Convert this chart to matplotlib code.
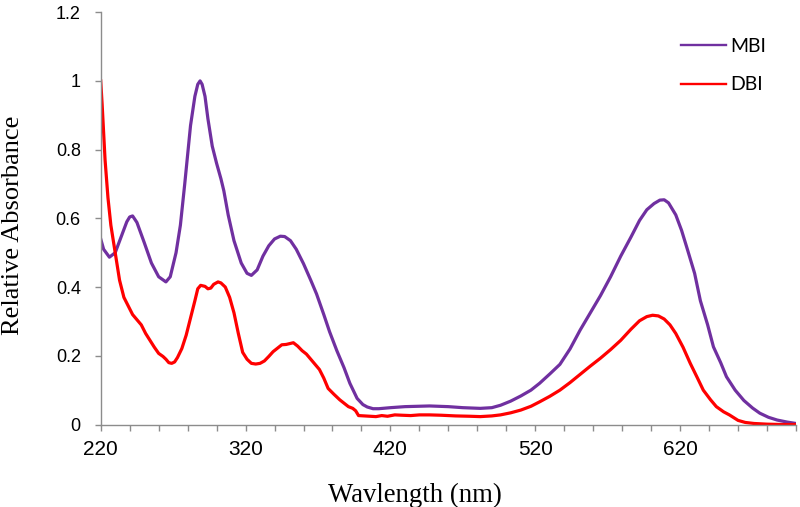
import matplotlib
matplotlib.use("Agg")
import matplotlib.pyplot as plt
from matplotlib.lines import Line2D

# Wavelength grid (nm) and relative absorbance for each dye
mbi_nm = [220, 222, 226, 230, 234, 238, 240, 242, 245, 250, 255, 260, 265, 268,
          272, 275, 278, 282, 285, 287, 288.6, 290, 292, 294, 297, 300, 303, 305,
          308, 312, 317, 321, 324, 328, 332, 336, 340, 344, 347, 351, 355, 360,
          365, 369, 374, 378, 383, 388, 392, 397, 401, 404, 408, 412, 420, 430,
          447, 460, 470, 482, 490, 496, 503, 510, 517, 523, 530, 537, 544, 551,
          558, 565, 572, 579, 586, 592, 597, 602, 606, 609, 612, 617, 621, 625,
          630, 634, 639, 643, 648, 652, 658, 664, 670, 675, 681, 687, 694, 700]
mbi_abs = [0.54, 0.51, 0.487, 0.50, 0.545, 0.59, 0.604, 0.607, 0.588, 0.53,
           0.47, 0.43, 0.415, 0.43, 0.50, 0.58, 0.70, 0.87, 0.955, 0.99, 1.0,
           0.99, 0.955, 0.89, 0.81, 0.76, 0.715, 0.68, 0.61, 0.535, 0.47, 0.44,
           0.434, 0.45, 0.49, 0.52, 0.54, 0.548, 0.547, 0.535, 0.51, 0.468, 0.42,
           0.38, 0.32, 0.27, 0.215, 0.165, 0.12, 0.076, 0.058, 0.051, 0.046,
           0.046, 0.049, 0.052, 0.054, 0.052, 0.049, 0.047, 0.049, 0.056, 0.068,
           0.083, 0.10, 0.12, 0.147, 0.175, 0.22, 0.275, 0.325, 0.375, 0.43,
           0.49, 0.545, 0.594, 0.625, 0.643, 0.653, 0.654, 0.645, 0.61, 0.565,
           0.51, 0.44, 0.36, 0.29, 0.226, 0.18, 0.139, 0.10, 0.07, 0.048, 0.033,
           0.021, 0.013, 0.007, 0.003]

dbi_nm = [220, 221, 223, 225, 227, 230, 233, 236, 239, 242, 245, 248, 251, 254,
          257, 260, 263, 265, 267, 269, 271, 273, 276, 279, 282, 285, 287, 289,
          292, 294, 296, 298, 301, 303, 306, 309, 312, 315, 318, 321, 324, 327,
          330, 333, 336, 339, 342, 345, 348, 350, 353, 356, 359, 362, 365, 368,
          371, 374, 377, 381, 385, 388, 391, 394, 396, 398, 402, 406, 410, 414,
          418, 423, 428, 434, 440, 447, 455, 465, 475, 482, 490, 496, 503, 510,
          517, 523, 530, 537, 544, 551, 558, 565, 572, 579, 586, 592, 597, 601,
          605, 609, 613, 617, 622, 627, 632, 636, 641, 645, 650, 654, 657, 660,
          665, 671, 680, 690, 700]
dbi_abs = [1.0, 0.93, 0.77, 0.66, 0.58, 0.50, 0.42, 0.37, 0.345, 0.32, 0.305,
           0.29, 0.265, 0.245, 0.225, 0.207, 0.198, 0.19, 0.18, 0.178, 0.182,
           0.195, 0.221, 0.26, 0.31, 0.36, 0.395, 0.405, 0.402, 0.395, 0.397,
           0.408, 0.415, 0.412, 0.40, 0.37, 0.325, 0.265, 0.21, 0.19, 0.178,
           0.176, 0.178, 0.185, 0.198, 0.212, 0.222, 0.232, 0.233, 0.235, 0.238,
           0.228, 0.215, 0.205, 0.19, 0.175, 0.16, 0.135, 0.105, 0.088, 0.072,
           0.062, 0.052, 0.047, 0.04, 0.026, 0.025, 0.024, 0.023, 0.026, 0.024,
           0.028, 0.027, 0.026, 0.028, 0.028, 0.027, 0.025, 0.024, 0.023, 0.025,
           0.028, 0.034, 0.042, 0.053, 0.066, 0.082, 0.10, 0.122, 0.146, 0.17,
           0.193, 0.218, 0.245, 0.277, 0.302, 0.314, 0.318, 0.316, 0.307, 0.29,
           0.265, 0.225, 0.178, 0.135, 0.10, 0.072, 0.052, 0.037, 0.028, 0.02,
           0.012, 0.006, 0.003, 0.001, 0.0, 0.0]

series_labels = ["MBI", "DBI"]
x_major = [220, 320, 420, 520, 620]
x_minor = list(range(220, 701, 20))
y_ticks = [0, 0.2, 0.4, 0.6, 0.8, 1.0, 1.2]
y_tick_labels = ["0", "0.2", "0.4", "0.6", "0.8", "1", "1.2"]

PURPLE = "#7030A0"
RED = "#FF0000"
AXIS = "#8C8C8C"

fig = plt.figure(figsize=(8, 5.07), dpi=100)
ax = fig.add_axes((0.1259, 0.1627, 0.995 - 0.1259, 0.976 - 0.1627))

ax.plot(mbi_nm, mbi_abs, color=PURPLE, lw=2.3, solid_joinstyle="round")
ax.plot(dbi_nm, dbi_abs, color=RED, lw=2.3, solid_joinstyle="round")

ax.set_xlim(220, 700)
ax.set_ylim(0, 1.2)

for side in ("top", "right"):
    ax.spines[side].set_visible(False)
for side in ("left", "bottom"):
    ax.spines[side].set_color(AXIS)
    ax.spines[side].set_linewidth(1.0)

ax.set_xticks(x_major)
ax.set_xticks(x_minor, minor=True)
ax.set_xticklabels([str(v) for v in x_major], fontsize=15,
                   family="Liberation Sans")
ax.set_yticks(y_ticks)
ax.set_yticklabels(y_tick_labels, fontsize=13, family="Liberation Sans")
ax.tick_params(axis="both", which="both", direction="out", length=4.3,
               width=1.0, color=AXIS, labelcolor="black")
ax.tick_params(axis="x", which="major", pad=7)
ax.tick_params(axis="y", which="major", pad=10)

fig.text(0.519, 0.0105, "Wavlength (nm)", family="Liberation Serif",
         fontsize=19.3, ha="center", va="baseline")
fig.text(0.0168, 0.556, "Relative Absorbance", family="Liberation Serif",
         fontsize=19, ha="center", va="center", rotation=90)

handles = [Line2D([], [], color=PURPLE, lw=1.7),
           Line2D([], [], color=RED, lw=1.7)]
leg = ax.legend(handles, series_labels, loc="upper left",
                bbox_to_anchor=(681 / 800, 1 - 38 / 507),
                bbox_transform=fig.transFigure, frameon=False,
                prop={"family": "Lato", "size": 14}, handlelength=2.3,
                handletextpad=0.25, labelspacing=1.1, borderpad=0,
                borderaxespad=0)

fig.savefig("out.png", dpi=100, facecolor="white")
